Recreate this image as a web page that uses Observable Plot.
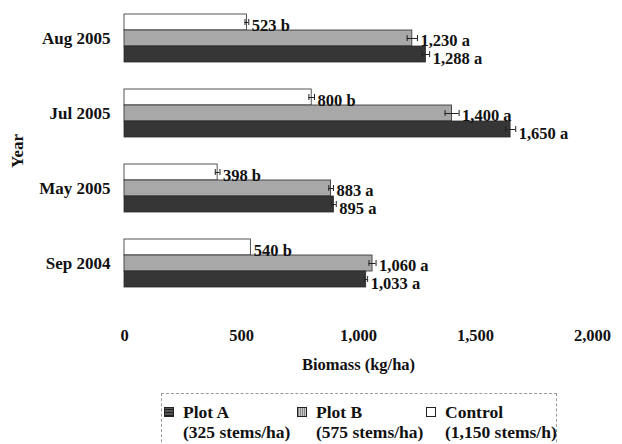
<!DOCTYPE html>
<html>
<head>
<meta charset="utf-8">
<script src="https://cdn.jsdelivr.net/npm/d3@7"></script>
<script src="https://cdn.jsdelivr.net/npm/@observablehq/plot@0.6"></script>
<style>
  body { margin: 0; background: white; font-family: "Liberation Serif", "Times New Roman", serif; }
  #wrap { position: relative; width: 622px; height: 444px; overflow: hidden; }
  #legend { position: absolute; left: 161px; top: 393px; width: 396px; height: 70px; border: 1px dashed #999; box-sizing: border-box; font-weight: bold; font-size: 17.5px; color: #111; }
  .item { position: absolute; top: 8px; line-height: 20px; }
  .sw { position: absolute; left: 0; top: 5px; width: 10px; height: 10px; box-sizing: border-box; border: 1px solid #222; }
  .txt { position: absolute; white-space: nowrap; }
</style>
</head>
<body>
<div id="wrap">
  <div id="chart"></div>
  <div id="legend"></div>
</div>
<script>
const years = ["Aug 2005", "Jul 2005", "May 2005", "Sep 2004"];
const seriesNames = ["Control", "Plot B", "Plot A"];
const plotA = [1288, 1650, 895, 1033];
const plotB = [1230, 1400, 883, 1060];
const control = [523, 800, 398, 540];
const plotAErr = [16, 22, 10, 6];
const plotBErr = [22, 30, 10, 15];
const controlErr = [8, 12, 10, 0];
const letters = {"Plot A": "a", "Plot B": "a", "Control": "b"};
const labelShift = {"Control": 3, "Plot B": 2, "Plot A": 4.5};
const xTicks = [0, 500, 1000, 1500, 2000];
const legendItems = [
  {name: "Plot A", sub: "(325 stems/ha)", bg: "repeating-linear-gradient(0deg,#222 0 1px,#555 1px 3px),#3b3b3b", left: 2},
  {name: "Plot B", sub: "(575 stems/ha)", bg: "repeating-linear-gradient(90deg,#888 0 1px,#c8c8c8 1px 2px)", left: 135},
  {name: "Control", sub: "(1,150 stems/h)", bg: "#ffffff", left: 264}
];

const data = years.flatMap((yr, i) => [
  {year: yr, series: "Control", value: control[i], err: controlErr[i]},
  {year: yr, series: "Plot B", value: plotB[i], err: plotBErr[i]},
  {year: yr, series: "Plot A", value: plotA[i], err: plotAErr[i]}
]);
const fmt = d3.format(",");

const textMarks = seriesNames.map(s => Plot.text(data.filter(d => d.series === s), {
  x: d => d.value + d.err, y: "series", fy: "year",
  text: d => fmt(d.value) + " " + letters[d.series],
  dx: 3, dy: labelShift[s], textAnchor: "start", fontSize: 16.5, fill: "#111"
}));

const chart = Plot.plot({
  width: 622,
  height: 390,
  marginLeft: 124,
  marginRight: 30,
  marginTop: 13,
  marginBottom: 102,
  style: {fontFamily: "'Liberation Serif', 'Times New Roman', serif", fontWeight: "bold", fontSize: "16px", color: "#111", background: "white"},
  x: {domain: [0, 2000]},
  y: {domain: seriesNames, padding: 0, axis: null},
  fy: {domain: years, paddingInner: 1/3, paddingOuter: 0},
  color: {domain: ["Plot A", "Plot B", "Control"], range: ["#363636", "#a8a8a8", "#ffffff"]},
  marks: [
    Plot.barX(data, {x: "value", y: "series", fy: "year", fill: "series", stroke: "#2a2a2a", strokeWidth: 0.8}),
    Plot.ruleY(data.filter(d => d.err > 0), {x1: d => d.value - d.err, x2: d => d.value + d.err, y: "series", fy: "year", stroke: "#222", strokeWidth: 1}),
    Plot.tickX(data.filter(d => d.err > 0), {x: d => d.value - d.err, y: "series", fy: "year", insetTop: 5, insetBottom: 5, stroke: "#222"}),
    Plot.tickX(data.filter(d => d.err > 0), {x: d => d.value + d.err, y: "series", fy: "year", insetTop: 5, insetBottom: 5, stroke: "#222"}),
    ...textMarks,
    Plot.axisX({ticks: xTicks, tickFormat: d => fmt(d), tickSize: 0, tickPadding: 41, label: "Biomass (kg/ha)", labelAnchor: "center", labelArrow: "none", labelOffset: 81, fontSize: 16.5}),
    Plot.axisFy({anchor: "left", tickSize: 0, tickPadding: 14, label: "Year", labelAnchor: "center", labelArrow: "none", labelOffset: 114, fontSize: 17})
  ]
});
document.getElementById("chart").appendChild(chart);

const legend = document.getElementById("legend");
for (const it of legendItems) {
  const el = document.createElement("div");
  el.className = "item";
  el.style.left = it.left + "px";
  el.innerHTML = `<div class="sw" style="background:${it.bg}"></div>` +
    `<div class="txt" style="left:19px;top:0">${it.name}</div>` +
    `<div class="txt" style="left:19px;top:20px">${it.sub}</div>`;
  legend.appendChild(el);
}
</script>
</body>
</html>
